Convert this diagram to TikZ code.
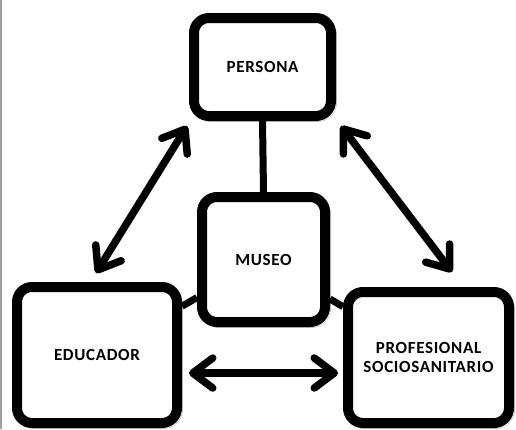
\documentclass[tikz,border=0pt]{standalone}
\usepackage{fontspec}
\setmainfont{Carlito}[LetterSpace=4]
\usetikzlibrary{arrows.meta,shadows.blur}
\begin{document}
\begin{tikzpicture}[x=1pt,y=-1pt,
  box/.style={draw=black, line width=10pt, rounded corners=15pt, fill=white,
    font=\fontsize{17}{19.5}\selectfont\bfseries, align=center, inner sep=0pt,
    blur shadow={shadow xshift=1.5pt, shadow yshift=-1.5pt, shadow blur radius=4pt, shadow blur steps=6, shadow opacity=35}},
  link/.style={line width=7pt},
  dbl/.style={line width=7.5pt, line cap=round, {Straight Barb[length=20pt,width=30pt,round]}-{Straight Barb[length=20pt,width=30pt,round]}}
]
\useasboundingbox (0,0) rectangle (516,429);
\fill[white] (0,0) rectangle (516,429);
\fill[gray!75] (0,0) rectangle (2,429);

\coordinate (a1) at (187,126);
\coordinate (a2) at (96,273);
\coordinate (b1) at (341,126);
\coordinate (b2) at (452,272);
\coordinate (c1) at (189,373);
\coordinate (c2) at (338,373);

\node[box, minimum width=137pt, minimum height=98pt] (persona) at (262.5,67) {PERSONA};
\node[box, minimum width=123pt, minimum height=125pt] (museo) at (263.5,259.5) {MUSEO};
\node[box, minimum width=160pt, minimum height=136pt] (educador) at (97,355) {EDUCADOR};
\node[box, minimum width=161pt, minimum height=131pt] (prof) at (428.5,357.5) {PROFESIONAL\\SOCIOSANITARIO};

\draw[link] (persona.south) -- (museo.north);
\draw[link] (educador) -- (museo);
\draw[link] (prof) -- (museo);

\draw[dbl] (a1) -- (a2);
\draw[dbl] (b1) -- (b2);
\draw[dbl] (c1) -- (c2);
\end{tikzpicture}
\end{document}
